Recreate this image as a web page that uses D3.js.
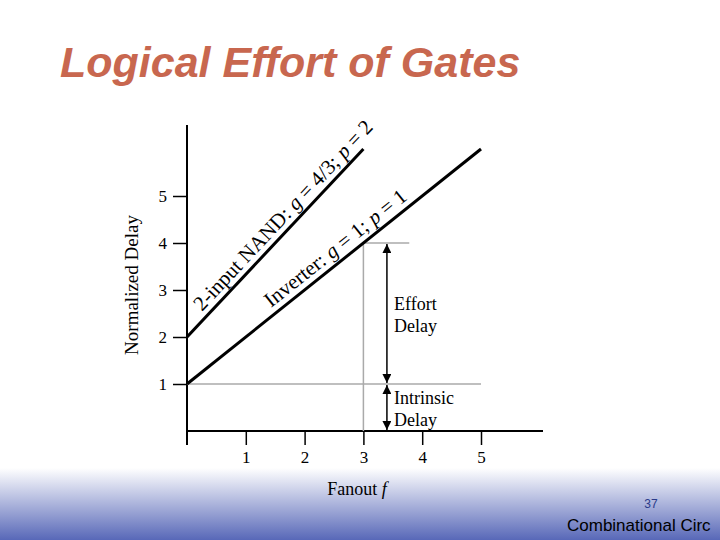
<!DOCTYPE html>
<html><head><meta charset="utf-8">
<script src="https://cdn.jsdelivr.net/npm/d3@7"></script>
<style>body{margin:0;background:#fff}svg{display:block}</style>
</head><body>
<svg id="c" width="720" height="540"></svg>
<script>
// chart data
var xTicks = [1, 2, 3, 4, 5];
var yTicks = [1, 2, 3, 4, 5];
var inverter = [[0, 1], [5, 6]];      // g = 1, p = 1
var nand2 = [[0, 2], [3, 6]];         // g = 4/3, p = 2

var svg = d3.select("#c");

// footer band
var grad = svg.append("defs").append("linearGradient")
  .attr("id", "band").attr("x1", 0).attr("y1", 0).attr("x2", 0).attr("y2", 1);
grad.append("stop").attr("offset", "0").attr("stop-color", "#ffffff");
grad.append("stop").attr("offset", "1").attr("stop-color", "#5868b8");
svg.append("rect").attr("x", 0).attr("y", 468).attr("width", 720).attr("height", 72)
  .attr("fill", "url(#band)");

svg.append("text").attr("x", 60).attr("y", 77)
  .attr("font-family", "Liberation Sans, Arial").attr("font-size", 43)
  .attr("font-weight", "bold").attr("font-style", "italic")
  .attr("fill", "#c8674f").text("Logical Effort of Gates");

svg.append("text").attr("x", 651).attr("y", 508).attr("text-anchor", "middle")
  .attr("font-family", "Liberation Sans, Arial").attr("font-size", 12)
  .attr("fill", "#2a3a8a").text("37");
svg.append("text").attr("x", 567).attr("y", 531)
  .attr("font-family", "Liberation Sans, Arial").attr("font-size", 17)
  .attr("fill", "#000").text("Combinational Circ");

var x = d3.scaleLinear().domain([0, 5]).range([187, 481]);
var y = d3.scaleLinear().domain([0, 5]).range([431, 196]);
var serif = "Liberation Serif, Times New Roman, serif";

// axes lines
svg.append("line").attr("x1", x(0)).attr("x2", 543).attr("y1", y(0)).attr("y2", y(0))
  .attr("stroke", "#000").attr("stroke-width", 2);
svg.append("line").attr("x1", x(0)).attr("x2", x(0)).attr("y1", 125).attr("y2", 445)
  .attr("stroke", "#000").attr("stroke-width", 2);

var xa = svg.append("g").attr("transform", "translate(0," + y(0) + ")")
  .call(d3.axisBottom(x).tickValues(xTicks).tickFormat(d3.format("d")).tickSize(14).tickPadding(6));
var ya = svg.append("g").attr("transform", "translate(" + x(0) + ",0)")
  .call(d3.axisLeft(y).tickValues(yTicks).tickFormat(d3.format("d")).tickSize(14).tickPadding(6));
[xa, ya].forEach(function(a) {
  a.select(".domain").remove();
  a.selectAll("line").attr("stroke", "#000").attr("stroke-width", 1.5);
  a.selectAll("text").attr("font-family", serif).attr("font-size", 17).attr("fill", "#000");
});

svg.append("text").attr("transform", "translate(138,285) rotate(-90)")
  .attr("text-anchor", "middle").attr("font-family", serif).attr("font-size", 19)
  .text("Normalized Delay");
var fx = svg.append("text").attr("x", 357).attr("y", 495).attr("text-anchor", "middle")
  .attr("font-family", serif).attr("font-size", 18);
fx.append("tspan").text("Fanout ");
fx.append("tspan").attr("font-style", "italic").text("f");

// gray guide lines
var gray = "#aaa";
svg.append("line").attr("x1", x(0)).attr("x2", x(5)).attr("y1", y(1)).attr("y2", y(1))
  .attr("stroke", gray).attr("stroke-width", 1.5);
svg.append("line").attr("x1", x(3)).attr("x2", x(3.78)).attr("y1", y(4)).attr("y2", y(4))
  .attr("stroke", gray).attr("stroke-width", 1.5);
svg.append("line").attr("x1", x(3)).attr("x2", x(3)).attr("y1", y(4)).attr("y2", y(0))
  .attr("stroke", gray).attr("stroke-width", 1.5);

// delay lines
var line = d3.line().x(function(d) { return x(d[0]); }).y(function(d) { return y(d[1]); });
[inverter, nand2].forEach(function(d) {
  svg.append("path").attr("d", line(d)).attr("fill", "none")
    .attr("stroke", "#000").attr("stroke-width", 3);
});

// arrows
var defs = svg.select("defs");
defs.append("marker").attr("id", "ah").attr("viewBox", "0 0 10 10").attr("refX", 10).attr("refY", 5)
  .attr("markerWidth", 6).attr("markerHeight", 6).attr("orient", "auto-start-reverse")
  .append("path").attr("d", "M0,0L10,5L0,10z").attr("fill", "#000");
var ax = x(3.4);
[[4, 1], [1, 0]].forEach(function(s) {
  svg.append("line").attr("x1", ax).attr("x2", ax).attr("y1", y(s[0]) + 1).attr("y2", y(s[1]) - 1)
    .attr("stroke", "#000").attr("stroke-width", 1.5)
    .attr("marker-start", "url(#ah)").attr("marker-end", "url(#ah)");
});
function lab(t, px, py) {
  svg.append("text").attr("x", px).attr("y", py).attr("font-family", serif)
    .attr("font-size", 18).text(t);
}
lab("Effort", 394, 310); lab("Delay", 394, 332);
lab("Intrinsic", 394, 404); lab("Delay", 394, 426);

// rotated line labels
function rotLabel(px, py, ang, parts) {
  var t = svg.append("text").attr("transform", "translate(" + px + "," + py + ") rotate(" + ang + ")")
    .attr("font-family", serif).attr("font-size", 21);
  parts.forEach(function(p) {
    t.append("tspan").attr("font-style", p[1] ? "italic" : "normal").text(p[0]);
  });
}
rotLabel(202, 312, -46.9, [["2-input NAND: ", 0], ["g", 1], [" = 4/3; ", 0], ["p", 1], [" = 2", 0]]);
rotLabel(271, 308, -38.5, [["Inverter: ", 0], ["g", 1], [" = 1; ", 0], ["p", 1], [" = 1", 0]]);
</script>
</body></html>
